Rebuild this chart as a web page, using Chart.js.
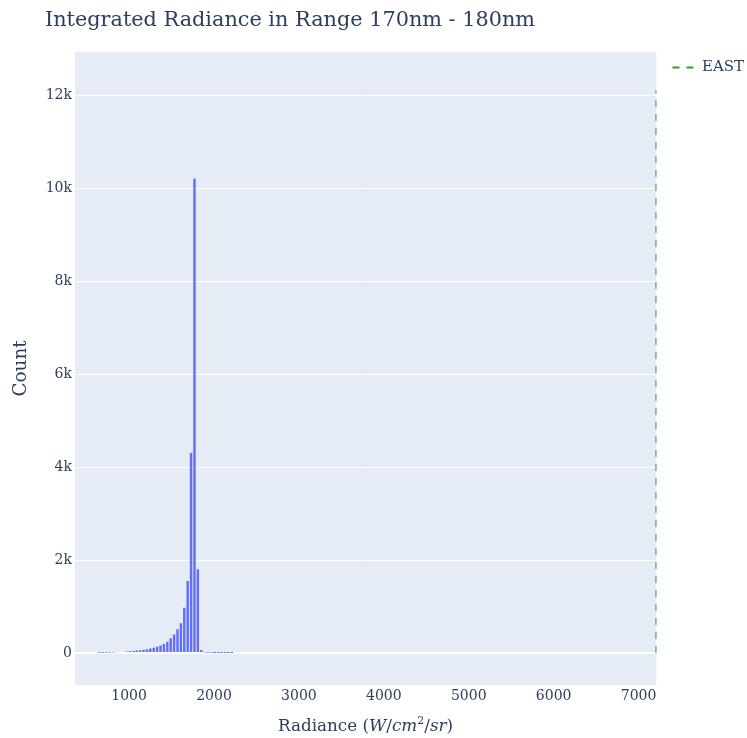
<!DOCTYPE html>
<html>
<head>
<meta charset="utf-8">
<script src="https://cdn.jsdelivr.net/npm/chart.js@4/dist/chart.umd.min.js"></script>
<style>
  html, body { margin: 0; padding: 0; background: #fff; }
  #wrap { position: relative; width: 747px; height: 738px; }
  #title { position: absolute; left: 45px; top: 9px; font: 20.8px/1 "DejaVu Serif"; color: #2a3f5f; white-space: nowrap; }
  #xtitle { position: absolute; left: 75px; width: 581px; top: 717px; text-align: center; font: 16.8px/1 "DejaVu Serif"; color: #2a3f5f; white-space: nowrap; }
  #xtitle sup { font-size: 11px; line-height: 0; }
</style>
</head>
<body>
<div id="wrap">
  <canvas id="histChart" width="747" height="738"></canvas>
  <div id="title">Integrated Radiance in Range 170nm - 180nm</div>
  <div id="xtitle">Radiance (<i>W</i>/<i>cm</i><sup>2</sup>/<i>sr</i>)</div>
</div>
<script>
// histogram bins: left edge of first bin and bin width (W/cm2/sr)
const binStart = 630;
const binWidth = 40;
const counts = [4, 5, 7, 9, 12, 15, 19, 24, 30, 37,
  44, 52, 61, 70, 82, 97, 112, 132, 160, 195,
  240, 315, 400, 510, 640, 975, 1550, 4300, 10200, 1800,
  65, 9, 5, 3, 2, 2, 1, 1, 1, 1];

// EAST marker line
const eastX = 7210;
const eastTop = 12100;

const xTicks = [1000, 2000, 3000, 4000, 5000, 6000, 7000];
const yTicks = [0, 2000, 4000, 6000, 8000, 10000, 12000];

const textColor = '#2a3f5f';
const fontFamily = 'DejaVu Serif';

const histData = counts.map((c, i) => ({ x: binStart + binWidth * (i + 0.5), y: c }));

const plotBg = {
  id: 'plotBg',
  beforeDraw(chart) {
    const { ctx, chartArea: a } = chart;
    ctx.save();
    ctx.fillStyle = '#e5ecf6';
    ctx.fillRect(a.left, a.top, a.right - a.left, a.bottom - a.top);
    ctx.restore();
  },
  afterLayout(chart) {
    // legend sits a little above the plot top, like plotly
    chart.legend.top -= 8;
    chart.legend.bottom -= 8;
  }
};

const ctx = document.getElementById('histChart').getContext('2d');
new Chart(ctx, {
  type: 'bar',
  data: {
    datasets: [
      {
        type: 'line',
        label: 'EAST',
        data: [{ x: eastX, y: 0 }, { x: eastX, y: eastTop }],
        borderColor: '#2ca02c',
        backgroundColor: '#2ca02c',
        borderWidth: 2,
        borderDash: [7, 7],
        pointRadius: 0,
        fill: false
      },
      {
        label: 'count',
        data: histData,
        backgroundColor: '#636efa',
        borderWidth: 0,
        categoryPercentage: 1,
        barPercentage: 0.72
      }
    ]
  },
  options: {
    responsive: false,
    animation: false,
    layout: { padding: { top: 52, right: -7, left: 0, bottom: 0 } },
    scales: {
      x: {
        type: 'linear',
        min: 363,
        max: eastX,
        offset: false,
        grid: { display: false, drawTicks: false },
        border: { display: false },
        afterBuildTicks: s => { s.ticks = xTicks.map(v => ({ value: v })); },
        afterFit: s => { s.height = 53; },
        ticks: {
          color: textColor,
          font: { family: fontFamily, size: 14 },
          padding: 3,
          maxRotation: 0,
          callback: v => String(v)
        }
      },
      y: {
        min: -688,
        max: 12925,
        grid: {
          color: '#ffffff',
          lineWidth: c => (c.tick && c.tick.value === 0 ? 2 : 1),
          drawTicks: false
        },
        border: { display: false },
        afterBuildTicks: s => { s.ticks = yTicks.map(v => ({ value: v })); },
        afterFit: s => { s.width = 75; },
        ticks: {
          color: textColor,
          font: { family: fontFamily, size: 14 },
          padding: 3,
          callback: v => (v === 0 ? '0' : v / 1000 + 'k')
        },
        title: {
          display: true,
          text: 'Count',
          color: textColor,
          font: { family: fontFamily, size: 18.4 },
          padding: { top: 10, bottom: 0 }
        }
      }
    },
    plugins: {
      legend: {
        position: 'right',
        align: 'start',
        labels: {
          generateLabels: chart => Chart.defaults.plugins.legend.labels.generateLabels(chart)
            .filter(item => item.text === 'EAST')
            .map(item => Object.assign(item, { lineDash: [7, 7], lineWidth: 2 })),
          usePointStyle: true,
          pointStyle: 'line',
          pointStyleWidth: 22,
          padding: 16,
          color: textColor,
          font: { family: fontFamily, size: 15 }
        }
      },
      tooltip: { enabled: false }
    }
  },
  plugins: [plotBg]
});
</script>
</body>
</html>
